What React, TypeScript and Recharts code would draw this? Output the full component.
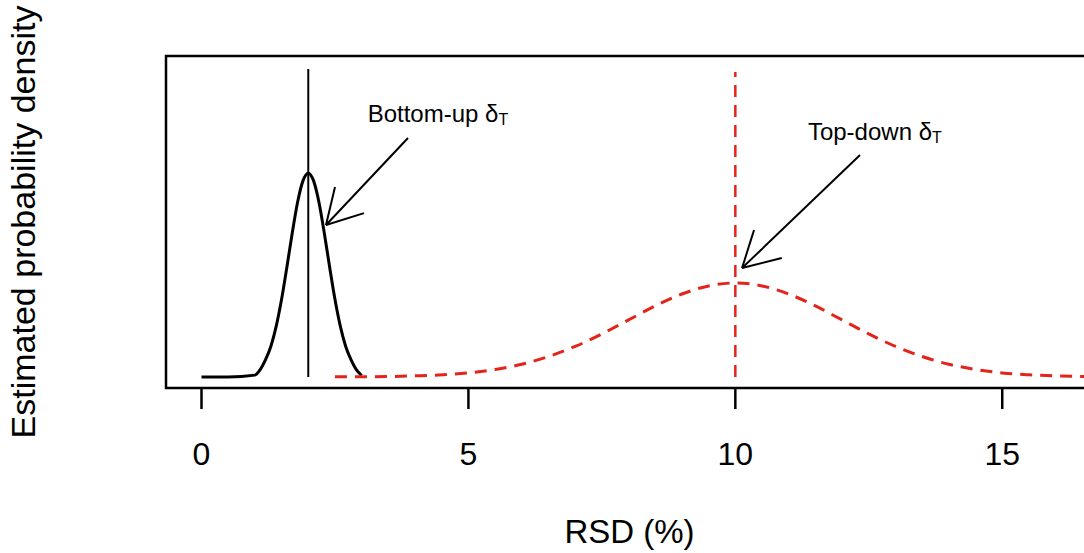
import { LineChart, Line, XAxis, YAxis, ReferenceLine, ReferenceArea, ReferenceDot } from 'recharts';

// density curves (arbitrary density units, baseline = 0)
const bottomUpX = [0, 0.5, 1.0, 1.1, 1.2, 1.3, 1.4, 1.5, 1.6, 1.7, 1.8, 1.9, 2.0, 2.1, 2.2, 2.3, 2.4, 2.5, 2.6, 2.7, 2.8, 2.9, 3.0];
const bottomUpY = [0, 0, 0.01, 0.04, 0.094, 0.167, 0.276, 0.422, 0.598, 0.783, 0.95, 1.066, 1.108, 1.066, 0.95, 0.783, 0.598, 0.422, 0.276, 0.167, 0.094, 0.04, 0.008];

const topDownX = [2.5, 3, 4, 5, 5.5, 6, 6.5, 7, 7.5, 8, 8.5, 9, 9.5, 10, 10.5, 11, 11.5, 12, 12.5, 13, 13.5, 14, 14.5, 15, 15.5, 16, 17];
const topDownY = [0.0005, 0.001, 0.006, 0.022, 0.041, 0.069, 0.111, 0.166, 0.234, 0.31, 0.386, 0.451, 0.495, 0.511, 0.495, 0.451, 0.386, 0.31, 0.234, 0.166, 0.111, 0.069, 0.041, 0.022, 0.012, 0.006, 0.001];

const xTicks = [0, 5, 10, 15];
const xDomain = [-0.665, 16.7];
const yDomain = [-0.06, 1.745];

// point estimates (vertical lines)
const bottomUpMark = { x: 2, top: 1.674 };
const topDownMark = { x: 10, top: 1.658 };

// annotations
const noteNames = ['Bottom-up δ', 'Top-down δ'];
const noteAt = [{ x: 3.113, y: 1.388 }, { x: 11.36, y: 1.288 }];
const arrowFrom = [{ x: 3.868, y: 1.299 }, { x: 12.336, y: 1.207 }];
const arrowTo = [{ x: 2.332, y: 0.826 }, { x: 10.126, y: 0.592 }];
const wingA = [{ x: 2.501, y: 1.033 }, { x: 10.35, y: 0.799 }];
const wingB = [{ x: 3.044, y: 0.891 }, { x: 10.87, y: 0.647 }];

const bottomUp = bottomUpX.map((x, i) => ({ x, y: bottomUpY[i] }));
const topDown = topDownX.map((x, i) => ({ x, y: topDownY[i] }));

const FONT = '"Liberation Sans", Arial, Helvetica, sans-serif';
const RED = '#e3241b';

const xTitle = (props: any) => {
  const vb = props.viewBox;
  return (
    <text x={vb.x + vb.width / 2} y={vb.y + 155} textAnchor="middle" fontSize={33} fontFamily={FONT} fill="#000">
      RSD (%)
    </text>
  );
};

const yTitle = (props: any) => {
  const vb = props.viewBox;
  const cx = vb.x + 35;
  const cy = vb.y + vb.height / 2;
  return (
    <text x={cx} y={cy} transform={`rotate(-90 ${cx} ${cy})`} textAnchor="middle" fontSize={34} fontFamily={FONT} fill="#000">
      Estimated probability density
    </text>
  );
};

const noteLabel = (name: string) => (props: any) => {
  const vb = props.viewBox;
  return (
    <text x={vb.x} y={vb.y} fontSize={24} fontFamily={FONT} fill="#000">
      <tspan>{name}</tspan>
      <tspan fontSize={16} dy={3}>T</tspan>
    </text>
  );
};

export default function App() {
  return (
    <div style={{ position: 'fixed', left: 0, top: 0, width: 1084, height: 553, overflow: 'hidden', background: '#fff' }}>
      <LineChart width={1100} height={553} margin={{ top: 56, right: 7, bottom: 0, left: 0 }}>
        <XAxis
          type="number"
          dataKey="x"
          domain={xDomain}
          allowDataOverflow
          ticks={xTicks}
          tickSize={21}
          tickMargin={33}
          axisLine={false}
          tickLine={{ stroke: '#000', strokeWidth: 2.5 }}
          tick={{ fontSize: 32, fill: '#000', fontFamily: FONT }}
          height={165}
          label={xTitle}
        />
        <YAxis
          type="number"
          domain={yDomain}
          allowDataOverflow
          width={166}
          tick={false}
          tickLine={false}
          axisLine={false}
          label={yTitle}
        />
        <ReferenceArea
          x1={xDomain[0]}
          x2={xDomain[1]}
          y1={yDomain[0]}
          y2={yDomain[1]}
          fill="none"
          fillOpacity={0}
          stroke="#000"
          strokeWidth={2.5}
        />
        <ReferenceLine
          segment={[{ x: bottomUpMark.x, y: 0 }, { x: bottomUpMark.x, y: bottomUpMark.top }]}
          stroke="#000"
          strokeWidth={2}
        />
        <ReferenceLine
          segment={[{ x: topDownMark.x, y: 0 }, { x: topDownMark.x, y: topDownMark.top }]}
          stroke={RED}
          strokeWidth={2.5}
          strokeDasharray="12 8"
        />
        <Line
          data={bottomUp}
          dataKey="y"
          type="monotone"
          stroke="#000"
          strokeWidth={3}
          dot={false}
          activeDot={false}
          isAnimationActive={false}
        />
        <Line
          data={topDown}
          dataKey="y"
          type="monotone"
          stroke={RED}
          strokeWidth={3}
          strokeDasharray="12 8"
          dot={false}
          activeDot={false}
          isAnimationActive={false}
        />
        {noteNames.map((name, i) => (
          <ReferenceLine key={`a${i}`} segment={[arrowFrom[i], arrowTo[i]]} stroke="#000" strokeWidth={2} />
        ))}
        {noteNames.map((name, i) => (
          <ReferenceLine key={`wa${i}`} segment={[arrowTo[i], wingA[i]]} stroke="#000" strokeWidth={2} />
        ))}
        {noteNames.map((name, i) => (
          <ReferenceLine key={`wb${i}`} segment={[arrowTo[i], wingB[i]]} stroke="#000" strokeWidth={2} />
        ))}
        {noteNames.map((name, i) => (
          <ReferenceDot
            key={`n${i}`}
            x={noteAt[i].x}
            y={noteAt[i].y}
            r={0}
            fill="none"
            stroke="none"
            label={noteLabel(name)}
          />
        ))}
      </LineChart>
    </div>
  );
}
